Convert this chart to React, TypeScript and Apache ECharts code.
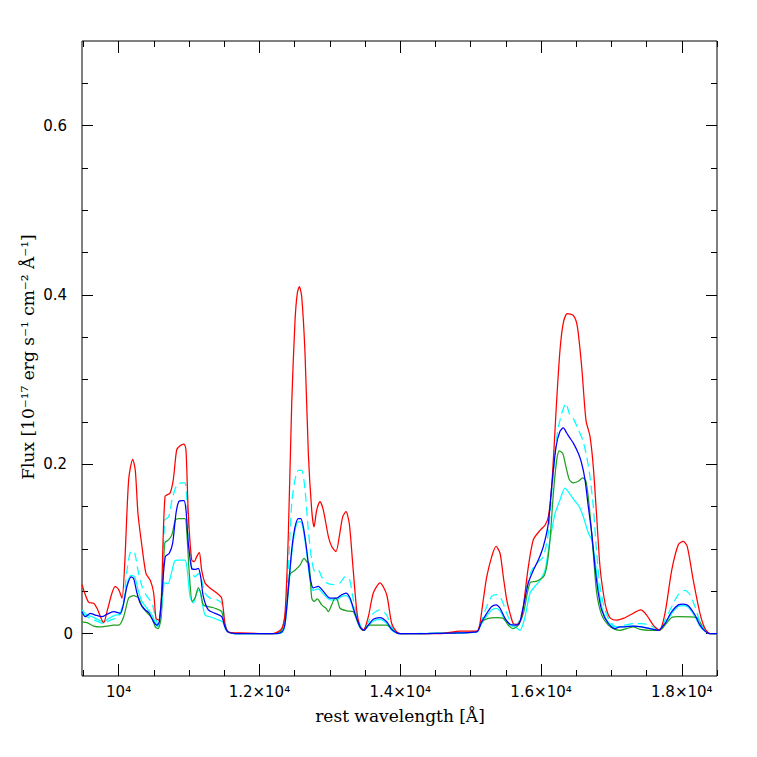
import React, { useEffect, useRef } from "react";
import * as echarts from "echarts";

// ---- axis ranges & ticks ----
const X_MIN = 9480;
const X_MAX = 18500;
const Y_MIN = -0.05;
const Y_MAX = 0.7;
const xMajorTicks = [10000, 12000, 14000, 16000, 18000];
const xMinorTicks = [9500, 10500, 11000, 11500, 12500, 13000, 13500, 14500, 15000, 15500, 16500, 17000, 17500, 18500];
const yMajorTicks = [0, 0.2, 0.4, 0.6];
const yMinorTicks = [0.05, 0.1, 0.15, 0.25, 0.3, 0.35, 0.45, 0.5, 0.55, 0.65];

const xTitle = "rest wavelength [Å]";
const yTitle = "Flux [10⁻¹⁷ erg s⁻¹ cm⁻² Å⁻¹]";

// ---- spectra: [rest wavelength (Å), flux] ----
const redFlux: [number, number][] = [
  [9480,0.058],[9527,0.046],[9575,0.037],[9646,0.036],[9693,0.030],[9788,0.013],[9835,0.026],[9906,0.048],[9953,0.056],[10001,0.052],
  [10048,0.042],[10087,0.083],[10143,0.182],[10200,0.206],[10237,0.193],[10275,0.142],[10332,0.103],[10389,0.071],[10450,0.063],[10498,0.048],
  [10531,0.018],[10570,0.016],[10606,0.040],[10659,0.162],[10730,0.166],[10777,0.182],[10825,0.217],[10872,0.222],[10929,0.224],[10957,0.217],
  [10990,0.142],[11038,0.087],[11075,0.085],[11109,0.091],[11146,0.096],[11180,0.075],[11227,0.060],[11298,0.054],[11393,0.048],[11464,0.042],
  [11511,0.012],[11558,0.002],[11724,0.001],[12193,0],[12317,0.006],[12364,0.024],[12410,0.115],[12459,0.272],[12506,0.370],[12538,0.402],
  [12567,0.410],[12601,0.398],[12648,0.331],[12695,0.213],[12743,0.146],[12776,0.126],[12814,0.146],[12861,0.156],[12908,0.146],[12979,0.115],
  [13027,0.103],[13088,0.097],[13135,0.115],[13183,0.138],[13230,0.144],[13277,0.130],[13325,0.083],[13382,0.028],[13429,0.008],[13476,0.004],
  [13547,0.020],[13618,0.048],[13713,0.060],[13808,0.046],[13879,0.012],[13950,0.002],[14000,0],[14560,0],[14850,0.003],[15040,0.003],
  [15110,0.004],[15180,0.040],[15229,0.067],[15300,0.091],[15361,0.103],[15418,0.095],[15465,0.067],[15513,0.040],[15560,0.024],[15606,0.012],
  [15663,0.011],[15726,0.020],[15773,0.048],[15820,0.079],[15891,0.111],[15986,0.122],[16057,0.128],[16104,0.138],[16152,0.174],[16223,0.276],
  [16270,0.335],[16317,0.367],[16374,0.378],[16459,0.376],[16516,0.363],[16578,0.315],[16639,0.252],[16696,0.233],[16743,0.197],[16791,0.138],
  [16838,0.079],[16885,0.048],[16933,0.028],[16990,0.018],[17075,0.016],[17169,0.018],[17264,0.022],[17416,0.028],[17501,0.022],[17595,0.010],
  [17680,0.004],[17761,0.024],[17857,0.075],[17950,0.105],[18021,0.109],[18077,0.103],[18163,0.063],[18258,0.024],[18329,0.006],[18400,0],[18500,0],
];

const blueFlux: [number, number][] = [
  [9480,0.026],[9527,0.020],[9598,0.024],[9669,0.022],[9764,0.020],[9835,0.023],[9930,0.026],[10024,0.024],[10072,0.036],[10119,0.056],
  [10180,0.067],[10214,0.065],[10261,0.048],[10308,0.036],[10379,0.028],[10427,0.025],[10498,0.014],[10545,0.010],[10578,0.014],[10616,0.048],
  [10663,0.091],[10720,0.095],[10768,0.107],[10815,0.142],[10854,0.156],[10900,0.157],[10929,0.157],[10957,0.146],[10990,0.107],[11038,0.077],
  [11085,0.076],[11132,0.077],[11166,0.067],[11203,0.044],[11274,0.028],[11369,0.024],[11464,0.020],[11511,0.008],[11558,0.002],[11700,0],
  [12200,0],[12317,0.002],[12364,0.012],[12410,0.052],[12459,0.099],[12506,0.126],[12553,0.136],[12587,0.136],[12624,0.126],[12672,0.099],
  [12719,0.067],[12766,0.054],[12837,0.056],[12908,0.050],[13003,0.042],[13098,0.042],[13169,0.046],[13230,0.048],[13287,0.042],[13358,0.024],
  [13429,0.008],[13486,0.004],[13547,0.010],[13618,0.017],[13713,0.019],[13808,0.014],[13879,0.005],[13950,0.001],[14000,0],[14850,0.001],
  [15086,0.002],[15158,0.014],[15229,0.024],[15300,0.032],[15361,0.034],[15418,0.030],[15489,0.018],[15560,0.011],[15630,0.010],[15692,0.012],
  [15749,0.032],[15820,0.060],[15891,0.075],[15962,0.087],[16033,0.103],[16104,0.130],[16152,0.174],[16214,0.221],[16270,0.239],[16317,0.243],
  [16365,0.237],[16412,0.231],[16459,0.225],[16530,0.213],[16578,0.201],[16625,0.182],[16672,0.150],[16720,0.119],[16767,0.079],[16814,0.048],
  [16862,0.028],[16956,0.012],[17051,0.006],[17122,0.008],[17193,0.008],[17311,0.009],[17430,0.008],[17548,0.006],[17666,0.004],[17761,0.012],
  [17857,0.026],[17950,0.034],[18021,0.035],[18092,0.033],[18187,0.022],[18258,0.010],[18329,0.003],[18400,0],[18500,0],
];

const greenFlux: [number, number][] = [
  [9480,0.014],[9551,0.013],[9646,0.009],[9740,0.008],[9835,0.009],[9930,0.010],[10001,0.010],[10072,0.020],[10143,0.042],[10214,0.045],
  [10285,0.042],[10332,0.032],[10403,0.025],[10474,0.018],[10521,0.008],[10560,0.006],[10606,0.020],[10655,0.107],[10712,0.111],[10758,0.117],
  [10805,0.134],[10854,0.136],[10943,0.136],[10967,0.122],[11004,0.071],[11046,0.038],[11085,0.042],[11132,0.054],[11166,0.048],[11203,0.034],
  [11274,0.032],[11369,0.030],[11464,0.026],[11501,0.012],[11558,0.002],[11700,0],[12200,0],[12317,0.004],[12388,0.036],[12434,0.070],
  [12506,0.075],[12577,0.081],[12634,0.089],[12672,0.085],[12705,0.083],[12743,0.042],[12776,0.038],[12823,0.041],[12885,0.034],[12946,0.030],
  [12979,0.026],[13027,0.034],[13074,0.042],[13107,0.040],[13145,0.030],[13240,0.027],[13334,0.026],[13405,0.012],[13467,0.004],[13547,0.010],
  [13808,0.010],[13879,0.006],[13950,0.001],[14000,0],[14850,0.001],[15086,0.002],[15158,0.014],[15252,0.018],[15371,0.019],[15465,0.018],
  [15536,0.010],[15606,0.006],[15677,0.010],[15749,0.024],[15844,0.060],[15939,0.062],[16033,0.067],[16081,0.079],[16128,0.111],[16176,0.166],
  [16223,0.205],[16260,0.216],[16308,0.213],[16355,0.197],[16402,0.182],[16459,0.178],[16530,0.180],[16592,0.184],[16639,0.180],[16686,0.150],
  [16743,0.095],[16791,0.048],[16862,0.022],[16956,0.010],[17051,0.005],[17122,0.004],[17217,0.006],[17311,0.008],[17406,0.005],[17548,0.004],
  [17690,0.004],[17761,0.010],[17857,0.019],[17950,0.020],[18211,0.019],[18282,0.010],[18353,0.002],[18400,0],[18500,0],
];

const cyanSolidFlux: [number, number][] = [
  [9480,0.028],[9551,0.022],[9622,0.020],[9717,0.016],[9788,0.014],[9859,0.018],[9953,0.022],[10024,0.023],[10072,0.036],[10119,0.058],
  [10180,0.069],[10229,0.067],[10275,0.052],[10332,0.038],[10403,0.030],[10474,0.022],[10521,0.013],[10560,0.008],[10606,0.028],[10655,0.060],
  [10702,0.059],[10749,0.071],[10797,0.086],[10848,0.087],[10943,0.087],[10975,0.075],[11014,0.044],[11061,0.036],[11109,0.048],[11146,0.052],
  [11180,0.040],[11227,0.022],[11298,0.020],[11393,0.017],[11478,0.014],[11525,0.004],[11580,0.001],[11700,0],[12200,0],[12317,0.001],
  [12364,0.010],[12410,0.048],[12459,0.094],[12506,0.122],[12553,0.132],[12587,0.132],[12624,0.122],[12672,0.095],[12719,0.063],[12766,0.051],
  [12837,0.053],[12908,0.047],[13003,0.040],[13098,0.040],[13169,0.044],[13230,0.045],[13287,0.040],[13358,0.022],[13429,0.007],[13486,0.004],
  [13547,0.009],[13618,0.015],[13713,0.017],[13808,0.012],[13879,0.004],[13950,0.001],[14000,0],[14850,0.001],[15086,0.002],[15158,0.012],
  [15229,0.021],[15300,0.028],[15361,0.030],[15418,0.027],[15489,0.016],[15560,0.010],[15630,0.008],[15702,0.004],[15773,0.020],[15844,0.048],
  [15915,0.056],[15986,0.063],[16057,0.075],[16128,0.111],[16200,0.142],[16270,0.158],[16341,0.172],[16402,0.166],[16469,0.158],[16544,0.150],
  [16601,0.138],[16672,0.119],[16720,0.111],[16767,0.087],[16814,0.056],[16862,0.032],[16933,0.016],[17051,0.008],[17169,0.008],[17311,0.009],
  [17430,0.008],[17548,0.006],[17666,0.004],[17761,0.011],[17857,0.024],[17950,0.032],[18021,0.033],[18092,0.031],[18187,0.020],[18258,0.009],
  [18329,0.003],[18400,0],[18500,0],
];

const cyanDashedFlux: [number, number][] = [
  [9480,0.024],[9551,0.020],[9622,0.017],[9717,0.014],[9788,0.012],[9882,0.016],[10001,0.020],[10072,0.040],[10119,0.075],[10180,0.098],
  [10229,0.095],[10275,0.075],[10332,0.056],[10403,0.044],[10474,0.036],[10521,0.020],[10560,0.010],[10616,0.036],[10655,0.134],[10712,0.138],
  [10758,0.158],[10829,0.176],[10900,0.178],[10943,0.178],[10967,0.162],[11004,0.111],[11042,0.075],[11085,0.067],[11132,0.071],[11180,0.063],
  [11227,0.048],[11298,0.042],[11393,0.040],[11464,0.036],[11511,0.012],[11558,0.002],[11700,0],[12200,0],[12317,0.002],[12364,0.020],
  [12410,0.075],[12459,0.154],[12506,0.182],[12553,0.193],[12601,0.193],[12648,0.170],[12695,0.122],[12743,0.087],[12790,0.073],[12837,0.075],
  [12885,0.067],[12956,0.060],[13050,0.058],[13145,0.060],[13216,0.067],[13277,0.065],[13334,0.040],[13405,0.016],[13476,0.005],[13547,0.014],
  [13618,0.024],[13713,0.028],[13808,0.022],[13879,0.008],[13950,0.001],[14000,0],[14850,0.001],[15086,0.002],[15158,0.016],[15229,0.032],
  [15300,0.044],[15371,0.046],[15442,0.040],[15513,0.024],[15584,0.012],[15655,0.011],[15726,0.024],[15797,0.056],[15868,0.075],[15939,0.083],
  [16033,0.091],[16104,0.119],[16176,0.189],[16232,0.237],[16294,0.260],[16355,0.272],[16402,0.260],[16459,0.254],[16530,0.241],[16592,0.229],
  [16649,0.209],[16696,0.185],[16743,0.150],[16791,0.095],[16838,0.056],[16895,0.032],[16970,0.016],[17075,0.008],[17193,0.010],[17311,0.012],
  [17430,0.012],[17548,0.010],[17680,0.004],[17761,0.016],[17857,0.032],[17950,0.046],[18045,0.051],[18116,0.046],[18187,0.032],[18258,0.014],
  [18343,0.002],[18400,0],[18500,0],
];

const TICK_FONT = "'DejaVu Sans', sans-serif";
const TITLE_FONT = "'DejaVu Serif', serif";

function xLabel(v: number): string {
  if (v === 10000) return "10⁴";
  return `${(v / 10000).toFixed(1)}×10⁴`;
}

function yLabel(v: number): string {
  if (Math.abs(v) < 1e-9) return "0";
  return `{p|${v.toFixed(1)}}`;
}

function makeXAxis(position: "top" | "bottom", values: number[], length: number, labels: boolean) {
  return {
    type: "value",
    min: X_MIN,
    max: X_MAX,
    position,
    axisLine: { show: false, onZero: false },
    splitLine: { show: false },
    axisTick: {
      show: true,
      inside: true,
      length,
      customValues: values,
      lineStyle: { color: "#000", width: 1 },
    },
    axisLabel: labels
      ? {
          show: true,
          customValues: values,
          formatter: xLabel,
          margin: 8,
          color: "#000",
          fontSize: 15,
          fontFamily: TICK_FONT,
        }
      : { show: false },
  };
}

function makeYAxis(position: "left" | "right", values: number[], length: number, labels: boolean) {
  return {
    type: "value",
    min: Y_MIN,
    max: Y_MAX,
    position,
    axisLine: { show: false, onZero: false },
    splitLine: { show: false },
    axisTick: {
      show: true,
      inside: true,
      length,
      customValues: values,
      lineStyle: { color: "#000", width: 1 },
    },
    axisLabel: labels
      ? {
          show: true,
          customValues: values,
          formatter: yLabel,
          margin: 9,
          color: "#000",
          fontSize: 15,
          fontFamily: TICK_FONT,
          rich: {
            p: { fontSize: 15, fontFamily: TICK_FONT, color: "#000", padding: [0, 6, 0, 0] },
          },
        }
      : { show: false },
  };
}

function lineSeries(name: string, data: [number, number][], color: string, dashed = false) {
  return {
    name,
    type: "line",
    data,
    xAxisIndex: 0,
    yAxisIndex: 0,
    showSymbol: false,
    symbol: "none",
    smooth: 0.25,
    lineStyle: { color, width: 1.25, type: dashed ? [9, 5] : "solid" },
    emphasis: { disabled: true },
    silent: true,
  };
}

export default function App() {
  const ref = useRef<HTMLDivElement>(null);

  useEffect(() => {
    if (!ref.current) return;
    const chart = echarts.init(ref.current, null, { renderer: "svg" });
    chart.setOption({
      animation: false,
      backgroundColor: "#fff",
      grid: {
        left: 82,
        top: 41,
        width: 635,
        height: 635,
        show: true,
        borderColor: "#000",
        borderWidth: 1,
        backgroundColor: "transparent",
      },
      xAxis: [
        makeXAxis("bottom", xMajorTicks, 12, true),
        makeXAxis("bottom", xMinorTicks, 6, false),
        makeXAxis("top", xMajorTicks, 12, false),
        makeXAxis("top", xMinorTicks, 6, false),
      ],
      yAxis: [
        makeYAxis("left", yMajorTicks, 11, true),
        makeYAxis("left", yMinorTicks, 6, false),
        makeYAxis("right", yMajorTicks, 11, false),
        makeYAxis("right", yMinorTicks, 6, false),
      ],
      series: [
        lineSeries("cyan", cyanSolidFlux, "#00ffff"),
        lineSeries("green", greenFlux, "#20a020"),
        lineSeries("cyan dashed", cyanDashedFlux, "#00ffff", true),
        lineSeries("red", redFlux, "#ff0000"),
        lineSeries("blue", blueFlux, "#0000ff"),
      ],
      graphic: [
        {
          type: "text",
          x: 400,
          y: 716,
          style: {
            text: xTitle,
            font: `17px ${TITLE_FONT}`,
            fill: "#000",
            textAlign: "center",
            textVerticalAlign: "middle",
          },
        },
        {
          type: "text",
          x: 28,
          y: 357,
          rotation: Math.PI / 2,
          style: {
            text: yTitle,
            font: `17px ${TITLE_FONT}`,
            fill: "#000",
            textAlign: "center",
            textVerticalAlign: "middle",
          },
        },
      ],
    });
    return () => chart.dispose();
  }, []);

  return (
    <div
      ref={ref}
      style={{ position: "absolute", left: 0, top: 0, width: 757, height: 757, background: "#fff" }}
    />
  );
}
